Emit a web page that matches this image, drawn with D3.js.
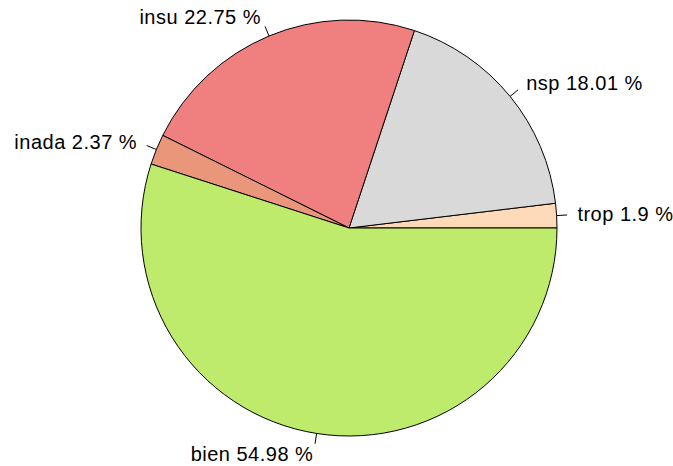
<!DOCTYPE html>
<meta charset="utf-8">
<script src="https://d3js.org/d3.v7.min.js"></script>
<style>
  body { margin: 0; background: #fff; }
  text { font-family: "Liberation Sans", Arial, sans-serif; font-size: 20px; letter-spacing: 0.5px; fill: #000; }
</style>
<div id="my_dataviz"></div>
<script>

// data, in drawing order (counterclockwise from 3 o'clock, like R's pie())
var categories = ["trop", "nsp", "insu", "inada", "bien"];
var percents = [1.9, 18.01, 22.75, 2.37, 54.98];
var colors = ["#FFDAB9", "#D9D9D9", "#F08080", "#E9967A", "#BFEB6C"];

var width = 673, height = 466;
var cx = 349, cy = 228, radius = 208;

var svg = d3.select("#my_dataviz")
  .append("svg")
    .attr("width", width)
    .attr("height", height)
  .append("g")
    .attr("transform", "translate(" + cx + "," + cy + ")");

var data = categories.map(function(c, i) { return {name: c, value: percents[i], color: colors[i]}; });

// counterclockwise from 3 o'clock
var pie = d3.pie()
  .sort(null)
  .value(function(d) { return d.value; })
  .startAngle(Math.PI / 2)
  .endAngle(Math.PI / 2 - 2 * Math.PI);

var arc = d3.arc().innerRadius(0).outerRadius(radius);
var arcs = pie(data);

svg.selectAll("path.slice")
  .data(arcs)
  .enter()
  .append("path")
    .attr("class", "slice")
    .attr("d", arc)
    .attr("fill", function(d) { return d.data.color; })
    .attr("stroke", "#000")
    .attr("stroke-width", 1);

// point at a given radius on the middle angle of a slice
function pt(d, r) {
  var a = (d.startAngle + d.endAngle) / 2;
  return [Math.sin(a) * r, -Math.cos(a) * r];
}

svg.selectAll("line.tick")
  .data(arcs)
  .enter()
  .append("line")
    .attr("x1", function(d) { return pt(d, radius)[0]; })
    .attr("y1", function(d) { return pt(d, radius)[1]; })
    .attr("x2", function(d) { return pt(d, radius * 1.05)[0]; })
    .attr("y2", function(d) { return pt(d, radius * 1.05)[1]; })
    .attr("stroke", "#000")
    .attr("stroke-width", 1);

svg.selectAll("text.label")
  .data(arcs)
  .enter()
  .append("text")
    .attr("x", function(d) { return pt(d, radius * 1.1)[0]; })
    .attr("y", function(d) { return pt(d, radius * 1.1)[1]; })
    .attr("dy", "0.35em")
    .attr("text-anchor", function(d) { return pt(d, 1)[0] > 0 ? "start" : "end"; })
    .text(function(d) { return d.data.name + " " + d.data.value + " %"; });

</script>
